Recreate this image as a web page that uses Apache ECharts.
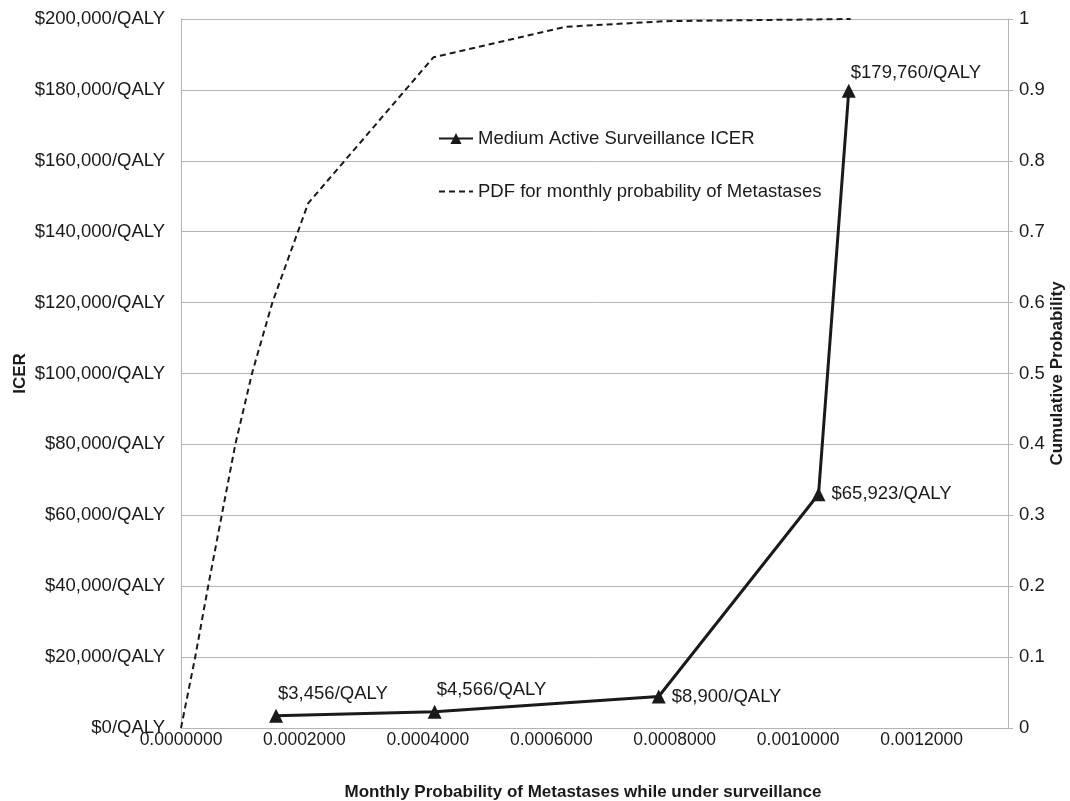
<!DOCTYPE html>
<html>
<head>
<meta charset="utf-8">
<script src="https://cdn.jsdelivr.net/npm/echarts@6/dist/echarts.min.js"></script>
<style>
html,body{margin:0;padding:0;background:#fff;}
#chart{width:1070px;height:801px;}
</style>
</head>
<body>
<div id="chart"></div>
<script>
// ICER series
const icerX = [0.000154, 0.000411, 0.000774, 0.001033, 0.001082];
const icerValues = [3456, 4566, 8900, 65923, 179760];
const icerLabels = ['$3,456/QALY', '$4,566/QALY', '$8,900/QALY', '$65,923/QALY', '$179,760/QALY'];
// Cumulative probability (PDF) series
const pdfX = [0, 0.000023, 0.000044, 0.000066, 0.000088, 0.000115, 0.000148, 0.000206, 0.000409, 0.000623, 0.000787, 0.001085];
const pdfValues = [0, 0.1, 0.2, 0.3, 0.4, 0.5, 0.6, 0.74, 0.946, 0.989, 0.997, 1.0];
// axis ticks
const xTicks = [0, 0.0002, 0.0004, 0.0006, 0.0008, 0.0010, 0.0012];

const FONT = '"Liberation Sans", Arial, Helvetica, sans-serif';
const TXT = '#1a1a1a';
const GRID = '#b4b4b4';
const FS = 18.5;

const labelCfg = [
  {position: 'top', align: 'left', offset: [2, 0]},
  {position: 'top', align: 'left', offset: [2, 0]},
  {position: 'right', distance: 6},
  {position: 'right', distance: 6},
  {position: 'top', align: 'left', offset: [2, 4]}
];

const icerData = icerX.map((x, i) => ({
  value: [x, icerValues[i]],
  label: Object.assign({show: true, formatter: icerLabels[i], fontSize: FS, color: TXT, fontFamily: FONT}, labelCfg[i])
}));
const pdfData = pdfX.map((x, i) => [x, pdfValues[i]]);

function fmtMoney(v) {
  return '$' + Math.round(v).toString().replace(/\B(?=(\d{3})+(?!\d))/g, ',') + '/QALY';
}

const chart = echarts.init(document.getElementById('chart'), null, {renderer: 'canvas'});
chart.setOption({
  animation: false,
  backgroundColor: '#ffffff',
  textStyle: {fontFamily: FONT, color: TXT},
  grid: {left: 181, right: 62, top: 19, bottom: 73, containLabel: false, outerBoundsMode: 'none'},
  legend: {
    orient: 'vertical',
    left: 433,
    top: 124,
    itemGap: 34,
    itemWidth: 34,
    itemHeight: 14,
    textStyle: {fontSize: FS, color: TXT, fontFamily: FONT},
    data: [
      {name: 'Medium Active Surveillance ICER'},
      {name: 'PDF for monthly probability of Metastases', itemStyle: {color: 'rgba(0,0,0,0)', opacity: 0, borderWidth: 0}}
    ]
  },
  xAxis: {
    type: 'value',
    min: 0,
    max: 0.00134,
    interval: 0.0002,
    name: 'Monthly Probability of Metastases while under surveillance',
    nameLocation: 'middle',
    nameGap: 56,
    nameMoveOverlap: false,
    nameTextStyle: {fontSize: 17, fontWeight: 'bold', color: TXT, fontFamily: FONT, padding: [0, 23, 0, 0]},
    axisLine: {show: true, lineStyle: {color: GRID, width: 1}},
    axisTick: {show: false},
    splitLine: {show: false},
    axisLabel: {
      fontSize: 17.5, color: TXT, margin: 3, showMaxLabel: false,
      formatter: v => {
        const ok = xTicks.some(t => Math.abs(t - v) < 1e-9);
        return ok ? v.toFixed(7) : '';
      }
    }
  },
  yAxis: [
    {
      type: 'value',
      min: 0, max: 200000, interval: 20000,
      name: 'ICER',
      nameLocation: 'middle',
      nameGap: 152,
      nameMoveOverlap: false,
      nameTextStyle: {fontSize: 17, fontWeight: 'bold', color: TXT, fontFamily: FONT},
      axisLine: {show: true, lineStyle: {color: GRID, width: 1}},
      axisTick: {show: false},
      splitLine: {show: true, lineStyle: {color: GRID, width: 1}},
      axisLabel: {fontSize: FS, color: TXT, margin: 16, formatter: fmtMoney}
    },
    {
      type: 'value',
      min: 0, max: 1, interval: 0.1,
      position: 'right',
      name: 'Cumulative Probability',
      nameLocation: 'middle',
      nameGap: 41,
      nameRotate: 90,
      nameMoveOverlap: false,
      nameTextStyle: {fontSize: 17, fontWeight: 'bold', color: TXT, fontFamily: FONT},
      axisLine: {show: true, lineStyle: {color: GRID, width: 1}},
      axisTick: {show: true, length: 5, lineStyle: {color: GRID}},
      splitLine: {show: false},
      axisLabel: {fontSize: FS, color: TXT, margin: 11, formatter: v => String(Math.round(v * 10) / 10)}
    }
  ],
  series: [
    {
      name: 'Medium Active Surveillance ICER',
      type: 'line',
      yAxisIndex: 0,
      data: icerData,
      symbol: 'triangle',
      symbolSize: 14,
      showAllSymbol: true,
      lineStyle: {color: '#1a1a1a', width: 3},
      itemStyle: {color: '#1a1a1a'},
      z: 5
    },
    {
      name: 'PDF for monthly probability of Metastases',
      type: 'line',
      yAxisIndex: 1,
      data: pdfData,
      symbol: 'none',
      lineStyle: {color: '#1a1a1a', width: 2, type: [6, 4]},
      itemStyle: {color: '#1a1a1a'},
      z: 4
    }
  ]
});
</script>
</body>
</html>
